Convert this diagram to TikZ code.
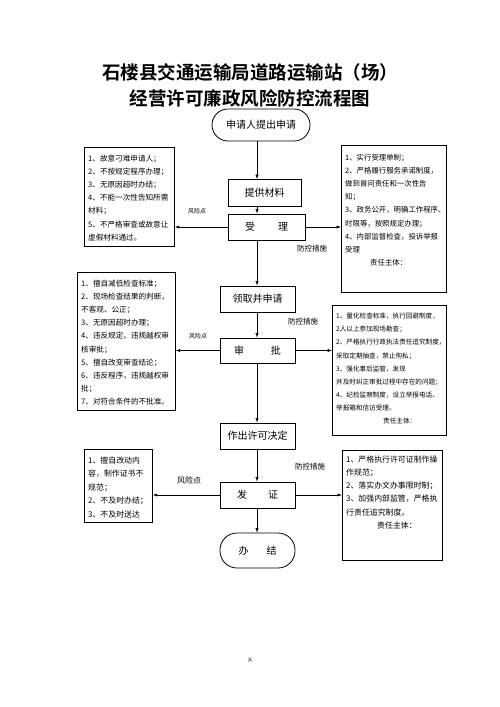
\documentclass[tikz,border=0pt]{standalone}
\usepackage{fontspec}
\usetikzlibrary{arrows.meta}
\newfontfamily\cjk{Noto Sans CJK SC}
\newfontfamily\cjkbold{Noto Sans CJK SC Bold}
\begin{document}
\begin{tikzpicture}[x=1pt,y=-1pt,
  arr/.style={-{Latex[length=4.5pt,width=3.2pt]}, line width=0.6pt},
  proc/.style={draw, line width=0.8pt, inner sep=0pt, font=\cjk\fontsize{10}{12}\selectfont},
  term/.style={proc, rounded corners=16pt},
  tbox/.style={draw, line width=0.7pt, anchor=north west, inner sep=0pt},
  ttxt/.style={anchor=north west, inner sep=0pt, align=left},
  lbl/.style={inner sep=0pt, font=\cjk\fontsize{6}{7}\selectfont},
  lblb/.style={inner sep=0pt, font=\cjk\fontsize{7.5}{8}\selectfont}]
\useasboundingbox (0,0) rectangle (500,707);
\fill[white] (0,0) rectangle (500,707);

% title
\node[font=\cjkbold\fontsize{18.5}{20}\selectfont, inner sep=0pt] (t1) at (250,72) {石楼县交通运输局道路运输站（场）};
\node[font=\cjkbold\fontsize{18.5}{20}\selectfont, inner sep=0pt] (t2) at (250,98) {经营许可廉政风险防控流程图};

\coordinate (ax) at (257,0);

% main flow
\node[term, minimum width=98pt, minimum height=32pt] (s0) at (261,125) {申请人提出申请};
\node[proc, minimum width=73pt, minimum height=27pt] (s1) at (264.5,193) {提供材料};
\node[proc, minimum width=77pt, minimum height=26pt] (s2) at (266.5,227) {受\hspace{2.3em}理};
\node[proc, minimum width=75pt, minimum height=26pt] (s3) at (257.5,299) {领取并申请};
\node[proc, minimum width=75pt, minimum height=25pt] (s4) at (257.5,350.5) {审\hspace{2.7em}批};
\node[proc, minimum width=75pt, minimum height=26pt] (s5) at (257.5,436) {作出许可决定};
\node[proc, minimum width=75pt, minimum height=26pt] (s6) at (257.5,495) {发\hspace{2.1em}证};
\node[term, rounded corners=17pt, minimum width=75pt, minimum height=35pt] (s7) at (257.5,550.5) {办\hspace{1.8em}结};

\draw[arr] (s0.south -| ax) -- (s1.north -| ax);
\draw[arr] (s1.south -| ax) -- (s2.north -| ax);
\draw[arr] (s2.south -| ax) -- (s3.north -| ax);
\draw[arr] (s3.south -| ax) -- (s4.north -| ax);
\draw[arr] (s4.south -| ax) -- (s5.north -| ax);
\draw[arr] (s5.south -| ax) -- (s6.north -| ax);
\draw[arr] (s6.south -| ax) -- (s7.north -| ax);

% left boxes
\node[tbox, minimum width=90pt, minimum height=99pt] (l1) at (84,147) {};
\node[ttxt, font=\cjk\fontsize{7.6}{13.2}\selectfont] (l1t) at (88,154.5) {1、故意刁难申请人；\\2、不按规定程序办理；\\3、无原因超时办结；\\4、不能一次性告知所需\\材料；\\5、不严格审查或故意让\\虚假材料通过。};

\node[tbox, minimum width=98pt, minimum height=138pt] (l2) at (77,272) {};
\node[ttxt, font=\cjk\fontsize{7.6}{13.2}\selectfont] (l2t) at (81,279.5) {1、擅自减低检查标准；\\2、现场检查结果的判断，\\不客观、公正；\\3、无原因超时办理；\\4、违反规定、违规越权审\\核审批；\\5、擅自改变审查结论；\\6、违反程序，违规越权审\\批；\\7、对符合条件的不批准。};

\node[tbox, minimum width=68pt, minimum height=73pt] (l3) at (84,449) {};
\node[ttxt, font=\cjk\fontsize{7.9}{13.5}\selectfont] (l3t) at (88,456.4) {1、擅自改动内\\容，制作证书不\\规范；\\2、不及时办结；\\3、不及时送达};

% right boxes
\node[tbox, minimum width=105pt, minimum height=147pt] (r1) at (341,145) {};
\node[ttxt, font=\cjk\fontsize{7.4}{13.2}\selectfont] (r1t) at (345,153.7) {1、实行受理单制；\\2、严格履行服务承诺制度，\\做到首问责任和一次性告\\知；\\3、政务公开，明确工作程序、\\时限等，按照规定办理；\\4、内部监督检查，投诉举报\\受理\\\hspace*{25pt}责任主体：};

\node[tbox, minimum width=114pt, minimum height=130pt] (r2) at (332,305) {};
\node[ttxt, font=\cjk\fontsize{6.6}{13.1}\selectfont] (r2t) at (336,313) {1、量化检查标准，执行回避制度，\\2人以上参加现场勘查；\\2、严格执行行政执法责任追究制度，\\采取定期抽查，禁止徇私；\\3、强化事后监管，发现\\并及时纠正审批过程中存在的问题；\\4、纪检监察制度，设立举报电话、\\举报箱和信访受理。\\\hspace*{47pt}责任主体：};

\node[tbox, minimum width=100pt, minimum height=110pt] (r3) at (342,450) {};
\node[ttxt, font=\cjk\fontsize{7.9}{13.2}\selectfont] (r3t) at (346,455.4) {1、严格执行许可证制作操\\作规范；\\2、落实办文办事限时制；\\3、加强内部监管，严格执\\行责任追究制度。\\\hspace*{31pt}责任主体：};

% side arrows
\draw[arr] (s2.west) -- (s2.west -| l1.east);
\draw[arr] (s2.east) -- (s2.east -| r1.west);
\draw[arr] (s4.west) -- (s4.west -| l2.east);
\draw[arr] (s4.east) -- (s4.east -| r2.west);
\draw[arr] (s6.west) -- (s6.west -| l3.east);
\draw[arr] (s6.east) -- (s6.east -| r3.west);

% labels
\node[lbl] (k1) at (197,211) {风险点};
\node[lblb] (c1) at (312,249) {防控措施};
\node[lbl] (k2) at (198,336) {风险点};
\node[lblb] (c2) at (303,322) {防控措施};
\node[inner sep=0pt, font=\cjk\fontsize{8}{9}\selectfont] (k3) at (189,480) {风险点};
\node[lblb] (c3) at (310,467) {防控措施};

\node[font=\fontsize{7}{8}\selectfont, inner sep=0pt] (pg) at (250,660) {8};
\end{tikzpicture}
\end{document}
